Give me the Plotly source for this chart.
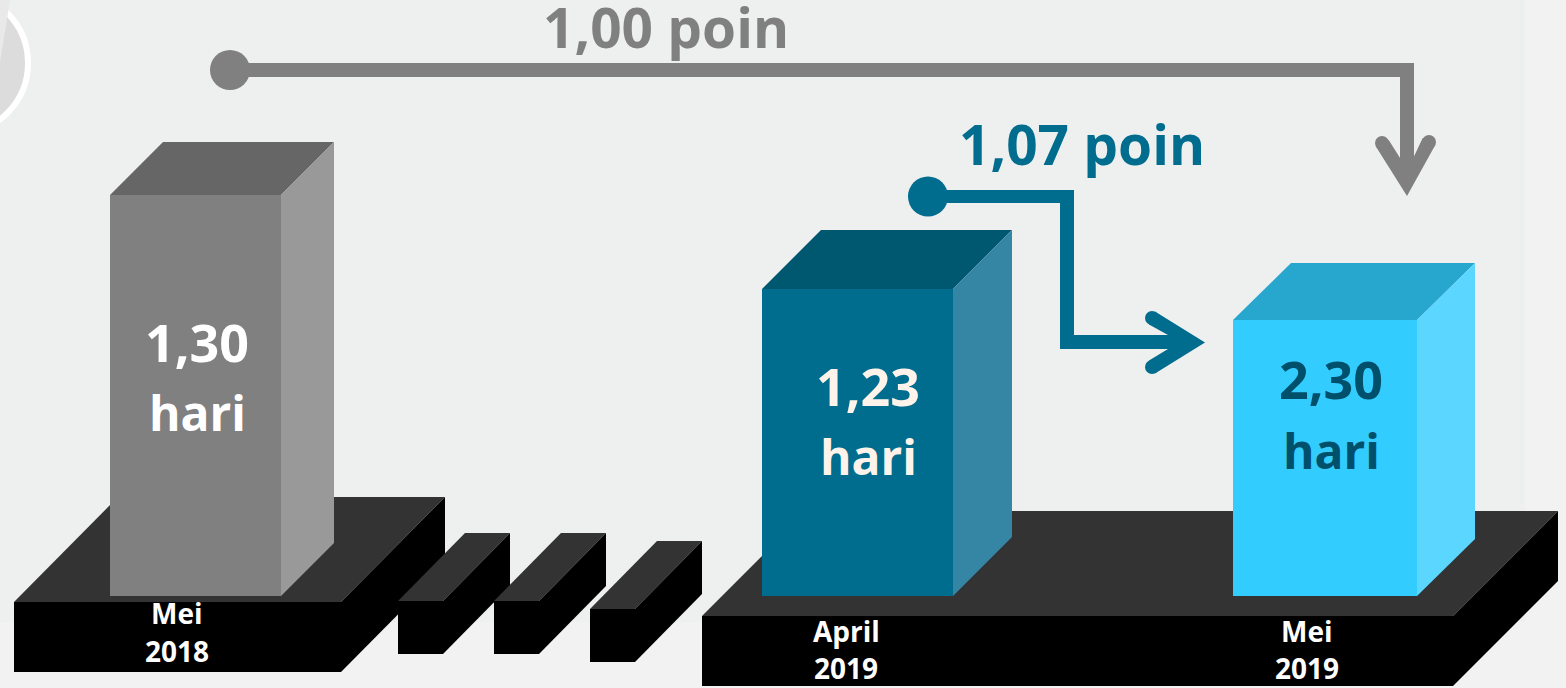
import plotly.graph_objects as go

# ---- data ----
categories = ["Mei<br>2018", "April<br>2019", "Mei<br>2019"]
values = ["1,30", "1,23", "2,30"]
unit = "hari"
changes = ["1,00 poin", "1,07 poin"]

# ---- drawing geometry (pixel-like axis units) ----
W, H = 1566, 688
BAR_BOTTOM = 596
bars_left = [110, 762, 1233]
bars_right = [281, 953, 1417]
bars_top = [195, 289, 320]
bars_dx = [53, 59, 58]
bars_dy = [53, 59, 57]
front_cols = ["#808080", "#006C8E", "#33CCFF"]
top_cols = ["#666666", "#005770", "#27A6CE"]
side_cols = ["#999999", "#3586A5", "#5BD6FF"]
text_cols = ["#FFFFFF", "#FDF3EA", "#004F6B"]
value_y = [341, 385, 378]
unit_y = [412, 456, 450]
value_x = [197, 868, 1331]
cat_x = [177, 846, 1307]
cat_y = [[613, 631, 631], [651, 668, 668]]

GREY, TEAL = "#808080", "#006C8E"

fig = go.Figure()


def poly(xs, ys, color):
    fig.add_trace(go.Scatter(
        x=xs + xs[:1], y=ys + ys[:1], mode="lines", fill="toself",
        fillcolor=color, line=dict(width=0, color=color),
        hoverinfo="skip", showlegend=False))


def box(x0, x1, y0, y1, dx, dy, front, top, side):
    poly([x0, x0 + dx, x1 + dx, x1], [y0, y0 - dy, y0 - dy, y0], top)
    poly([x1, x1 + dx, x1 + dx, x1], [y0, y0 - dy, y1 - dy, y1], side)
    poly([x0, x1, x1, x0], [y0, y0, y1, y1], front)


def dots(xs, ys, size, color):
    fig.add_trace(go.Scatter(
        x=xs, y=ys, mode="markers",
        marker=dict(size=size, color=color, line=dict(width=0)),
        hoverinfo="skip", showlegend=False))


# platforms and spacer blocks
plat_top, plat_front, plat_side = "#333333", "#000000", "#000000"
box(14, 341, 602, 672, 104, 105, plat_front, plat_top, plat_side)
box(398, 443, 601, 654, 67, 68, plat_front, plat_top, plat_side)
box(494, 539, 601, 654, 67, 68, plat_front, plat_top, plat_side)
box(590, 635, 609, 662, 67, 68, plat_front, plat_top, plat_side)
box(702, 1453, 616, 686, 105, 105, plat_front, plat_top, plat_side)

# bars
for i in range(3):
    box(bars_left[i], bars_right[i], bars_top[i], BAR_BOTTOM, bars_dx[i], bars_dy[i],
        front_cols[i], top_cols[i], side_cols[i])

# grey connector
poly([230, 1414, 1414, 1400, 1400, 230], [63, 63, 165, 165, 77, 77], GREY)
poly([1407, 1376, 1388.7, 1400.7, 1413.7, 1422.7, 1435.3],
     [196, 146.7, 140, 159, 157, 138, 145], GREY)
dots([1382, 1429], [143, 142], 14, GREY)
dots([230], [70], 40, GREY)

# teal connector
poly([928, 1074, 1074, 1175, 1175, 1060, 1060, 928],
     [190, 190, 335, 335, 349, 349, 203, 203], TEAL)
poly([1205, 1155, 1149, 1168, 1168, 1149, 1155],
     [342.5, 311.6, 324.4, 335, 349, 360.6, 373.4], TEAL)
dots([1152, 1152], [318, 367], 14, TEAL)
dots([928], [196.5], 40, TEAL)

# the wedge at the top-left corner
poly([0, 10, 8, 0], [0, 0, 13, 62], "#E9E9E9")

FONT = "Open Sans"


def label(x, y, text, size, color):
    fig.add_annotation(x=x, y=y, text=text, showarrow=False, xref="x", yref="y",
                       xanchor="center", yanchor="middle",
                       font=dict(family=FONT, size=size, color=color, weight="bold"))


for i in range(3):
    label(value_x[i], value_y[i], values[i], 52, text_cols[i])
    label(value_x[i], unit_y[i], unit, 48, text_cols[i])
    parts = categories[i].split("<br>")
    label(cat_x[i], cat_y[0][i], parts[0], 28, "#FFFFFF")
    label(cat_x[i], cat_y[1][i], parts[1], 28, "#FFFFFF")

label(666, 26, changes[0], 55, GREY)
label(1082, 143, changes[1], 55, TEAL)

fig.update_layout(
    width=W, height=H, margin=dict(l=0, r=0, t=0, b=0),
    paper_bgcolor="#F2F2F2", plot_bgcolor="rgba(0,0,0,0)", showlegend=False,
    xaxis=dict(range=[0, W], visible=False, fixedrange=True),
    yaxis=dict(range=[H, 0], visible=False, fixedrange=True),
    shapes=[
        dict(type="rect", xref="x", yref="y", x0=0, x1=1525, y0=0, y1=622,
             fillcolor="#EEF0EF", line=dict(width=0), layer="below"),
        dict(type="circle", xref="x", yref="y", x0=-114, x1=28, y0=-8, y1=134,
             fillcolor="#DCDCDC", line=dict(width=6, color="#FFFFFF"), layer="below"),
    ],
)

fig.write_html("out.html", config={"displayModeBar": False},
               post_script="document.body.style.margin='0';document.body.style.overflow='hidden';")
